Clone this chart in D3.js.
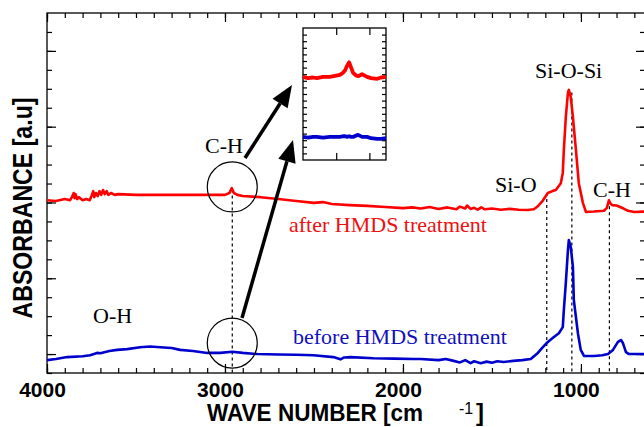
<!DOCTYPE html>
<html>
<head>
<meta charset="utf-8">
<script src="https://cdn.jsdelivr.net/npm/d3@7"></script>
<style>
  body { margin: 0; background: #fff; }
  svg { display: block; }
</style>
</head>
<body>
<svg></svg>
<script>
var width = 644
var height = 427

// after HMDS (red) spectrum, wave number vs absorbance (a.u.)
var redWave = [4000, 3950, 3900, 3870, 3860, 3850, 3845, 3840, 3830, 3820, 3800, 3780, 3760, 3750, 3740, 3735, 3725, 3715, 3705, 3695, 3685, 3675, 3665, 3655, 3640, 3620, 3600, 3500, 3300, 3100, 3000, 2975, 2962, 2950, 2930, 2900, 2800, 2700, 2600, 2500, 2450, 2400, 2300, 2200, 2100, 2000, 1950, 1900, 1850, 1800, 1750, 1700, 1680, 1650, 1640, 1620, 1600, 1580, 1560, 1540, 1500, 1450, 1400, 1350, 1300, 1265, 1242, 1214, 1186, 1160, 1141, 1113, 1102, 1096, 1085, 1073, 1068, 1057, 1045, 1028, 1012, 989, 972, 927, 871, 855, 848, 843, 835, 825, 800, 780, 760, 736, 700, 640]
var redAbs = [0.406, 0.404, 0.409, 0.406, 0.414, 0.425, 0.411, 0.422, 0.409, 0.414, 0.406, 0.409, 0.406, 0.417, 0.430, 0.414, 0.425, 0.417, 0.430, 0.420, 0.433, 0.422, 0.430, 0.420, 0.425, 0.420, 0.422, 0.420, 0.420, 0.420, 0.420, 0.425, 0.438, 0.425, 0.420, 0.417, 0.414, 0.409, 0.404, 0.399, 0.401, 0.396, 0.393, 0.391, 0.388, 0.385, 0.387, 0.384, 0.388, 0.383, 0.387, 0.382, 0.389, 0.384, 0.392, 0.383, 0.386, 0.381, 0.387, 0.382, 0.384, 0.381, 0.383, 0.381, 0.380, 0.382, 0.390, 0.405, 0.425, 0.430, 0.433, 0.451, 0.478, 0.538, 0.625, 0.689, 0.697, 0.678, 0.625, 0.538, 0.451, 0.399, 0.375, 0.376, 0.378, 0.385, 0.396, 0.406, 0.398, 0.393, 0.392, 0.388, 0.384, 0.378, 0.375, 0.376]

// before HMDS (blue) spectrum
var blueWave = [4000, 3950, 3887, 3800, 3758, 3719, 3700, 3650, 3606, 3550, 3477, 3420, 3364, 3300, 3252, 3180, 3100, 3026, 2959, 2900, 2818, 2700, 2600, 2503, 2391, 2351, 2330, 2295, 2166, 2050, 1940, 1901, 1800, 1760, 1715, 1680, 1650, 1620, 1600, 1563, 1530, 1500, 1470, 1434, 1380, 1330, 1282, 1242, 1214, 1186, 1152, 1124, 1102, 1096, 1085, 1073, 1068, 1057, 1045, 1040, 1017, 1001, 983, 927, 880, 848, 820, 792, 775, 764, 747, 730, 640]
var blueAbs = [-0.016, -0.013, -0.008, -0.006, -0.003, 0.003, 0.002, 0.008, 0.011, 0.013, 0.018, 0.020, 0.018, 0.016, 0.011, 0.008, 0.003, 0.003, 0.006, 0.003, 0.000, -0.001, -0.002, -0.003, -0.008, -0.014, -0.009, -0.008, -0.011, -0.012, -0.013, -0.013, -0.016, -0.013, -0.018, -0.022, -0.016, -0.024, -0.019, -0.024, -0.020, -0.023, -0.019, -0.021, -0.018, -0.016, -0.013, 0.003, 0.018, 0.032, 0.045, 0.055, 0.071, 0.116, 0.187, 0.274, 0.301, 0.282, 0.230, 0.143, 0.055, 0.011, -0.005, -0.005, -0.003, 0.000, 0.011, 0.032, 0.037, 0.029, 0.005, 0.000, 0.000]

// inset (C-H region, enlarged)
var insetWave = [3100, 3085, 3070, 3058, 3040, 3019, 3000, 2989, 2980, 2973, 2967, 2961, 2955, 2949, 2940, 2934, 2922, 2907, 2895, 2877, 2865, 2850]
var insetRedAbs = [12.6, 12.4, 12.5, 12.4, 12.6, 12.6, 12.8, 12.9, 13.2, 13.6, 14.3, 14.8, 14.0, 13.2, 12.8, 12.7, 13.0, 12.6, 12.4, 12.3, 12.5, 12.6]
var insetBlueAbs = [3.5, 3.4, 3.5, 3.5, 3.4, 3.5, 3.5, 3.5, 3.6, 3.6, 3.5, 3.6, 3.5, 3.5, 3.7, 3.8, 3.5, 3.5, 3.3, 3.2, 3.2, 3.3]

// peak markers (dashed lines) : wave number and top of dashed line
var markWave = [2959, 1192, 1051, 840]
var markTop = [0.434, 0.425, 0.69, 0.406]

var xTicks = [4000, 3000, 2000, 1000]

var svg = d3.select("svg")
	.attr("width", width)
	.attr("height", height)

var plotLeft = 47, plotRight = 645, plotTop = 13, plotBottom = 373

var xScale = d3.scaleLinear()
	.domain([4000, 640])
	.range([plotLeft, plotRight])

var yScale = d3.scaleLinear()
	.domain([-0.05, 0.9])
	.range([plotBottom, plotTop])

// frame
svg.append("rect")
	.attr("x", plotLeft).attr("y", plotTop)
	.attr("width", plotRight - plotLeft).attr("height", plotBottom - plotTop)
	.attr("fill", "none").attr("stroke", "#000").attr("stroke-width", 1.3)

function drawAxis(axis, tx, ty) {
	var g = svg.append("g")
		.attr("transform", "translate(" + tx + "," + ty + ")")
		.call(axis)
	g.select(".domain").remove()
	g.selectAll("line").attr("stroke", "#000").attr("stroke-width", 1.2)
	return g
}

var minorX = d3.range(4000, 640, -100)
var minorY = d3.range(-0.05, 0.9, 0.05)

// bottom
drawAxis(d3.axisBottom(xScale).tickValues(minorX).tickSize(-5).tickFormat(""), 0, plotBottom)
var bx = drawAxis(d3.axisBottom(xScale).tickValues(xTicks).tickSize(-9).tickPadding(9).tickFormat(d3.format("d")), 0, plotBottom)
bx.selectAll("text")
	.attr("dx", -5)
	.attr("fill", "#000")
	.style("font-family", "'Liberation Sans', Arial, sans-serif")
	.style("font-weight", "bold")
	.style("font-size", "21px")
// top
drawAxis(d3.axisTop(xScale).tickValues(minorX).tickSize(-5).tickFormat(""), 0, plotTop)
drawAxis(d3.axisTop(xScale).tickValues(xTicks).tickSize(-9).tickFormat(""), 0, plotTop)
// left / right
drawAxis(d3.axisLeft(yScale).tickValues(minorY).tickSize(-5).tickFormat(""), plotLeft, 0)
drawAxis(d3.axisLeft(yScale).ticks(5).tickSize(-9).tickFormat(""), plotLeft, 0)
drawAxis(d3.axisRight(yScale).tickValues(minorY).tickSize(-5).tickFormat(""), plotRight, 0)
drawAxis(d3.axisRight(yScale).ticks(5).tickSize(-9).tickFormat(""), plotRight, 0)

// dashed peak lines
svg.selectAll(".mark")
	.data(markWave)
	.join("line")
	.attr("class", "mark")
	.attr("x1", function(d){ return xScale(d) })
	.attr("x2", function(d){ return xScale(d) })
	.attr("y1", function(d, i){ return yScale(markTop[i]) })
	.attr("y2", plotBottom)
	.attr("stroke", "#000")
	.attr("stroke-width", 1.2)
	.attr("stroke-dasharray", "3,3")

var line = d3.line()
	.x(function(d){ return xScale(d[0]) })
	.y(function(d){ return yScale(d[1]) })

svg.append("path")
	.datum(d3.zip(redWave, redAbs))
	.attr("d", line)
	.attr("fill", "none")
	.attr("stroke", "#ff0000")
	.attr("stroke-width", 2.6)
	.attr("stroke-linejoin", "round")

svg.append("path")
	.datum(d3.zip(blueWave, blueAbs))
	.attr("d", line)
	.attr("fill", "none")
	.attr("stroke", "#0000cc")
	.attr("stroke-width", 2.6)
	.attr("stroke-linejoin", "round")

// circles around C-H region
svg.selectAll(".ring")
	.data([0.441, 0.029])
	.join("circle")
	.attr("class", "ring")
	.attr("cx", xScale(markWave[0]))
	.attr("cy", function(d){ return yScale(d) })
	.attr("r", 25)
	.attr("fill", "none")
	.attr("stroke", "#000")
	.attr("stroke-width", 1.2)

// inset
var ix = d3.scaleLinear().domain([3100, 2850]).range([303, 386])
var iy = d3.scaleLinear().domain([0, 20]).range([160, 28])

svg.append("rect")
	.attr("x", 303).attr("y", 28).attr("width", 83).attr("height", 132)
	.attr("fill", "#fff").attr("stroke", "#000").attr("stroke-width", 1.3)

drawAxis(d3.axisLeft(iy).tickValues(d3.range(1, 20)).tickSize(-4).tickFormat(""), 303, 0)
drawAxis(d3.axisRight(iy).tickValues(d3.range(1, 20)).tickSize(-4).tickFormat(""), 386, 0)
drawAxis(d3.axisBottom(ix).tickValues([3000, 2900]).tickSize(-7).tickFormat(""), 0, 160)
drawAxis(d3.axisTop(ix).tickValues([3000, 2900]).tickSize(-7).tickFormat(""), 0, 28)

var iline = d3.line()
	.x(function(d){ return ix(d[0]) })
	.y(function(d){ return iy(d[1]) })

svg.append("path")
	.datum(d3.zip(insetWave, insetRedAbs))
	.attr("d", iline)
	.attr("fill", "none")
	.attr("stroke", "#ff0000")
	.attr("stroke-width", 3.8)
	.attr("stroke-linejoin", "round")

svg.append("path")
	.datum(d3.zip(insetWave, insetBlueAbs))
	.attr("d", iline)
	.attr("fill", "none")
	.attr("stroke", "#0000cc")
	.attr("stroke-width", 3.8)
	.attr("stroke-linejoin", "round")

// arrows
function arrow(x1, y1, x2, y2) {
	var ang = Math.atan2(y2 - y1, x2 - x1)
	var len = 22, hw = 9
	var bx = x2 - len * Math.cos(ang), by = y2 - len * Math.sin(ang)
	svg.append("line")
		.attr("x1", x1).attr("y1", y1).attr("x2", bx).attr("y2", by)
		.attr("stroke", "#000").attr("stroke-width", 3.5)
	var px = -Math.sin(ang) * hw, py = Math.cos(ang) * hw
	svg.append("path")
		.attr("d", "M" + x2 + "," + y2 + "L" + (bx + px) + "," + (by + py) + "L" + (bx - px) + "," + (by - py) + "Z")
		.attr("fill", "#000")
}
arrow(245, 158, 292, 85)
arrow(242, 318, 293, 140)

// annotations
var serif = "'Liberation Serif', 'Times New Roman', serif"
function label(txt, x, y, col) {
	svg.append("text")
		.attr("x", x).attr("y", y)
		.attr("fill", col || "#000")
		.style("font-family", serif)
		.style("font-size", "22px")
		.text(txt)
}
label("C-H", 205, 153)
label("O-H", 93, 323)
label("Si-O-Si", 535, 78)
label("Si-O", 495, 192)
label("C-H", 593, 197)
label("after HMDS treatment", 289, 232, "#ee1111")
label("before HMDS treatment", 293, 344, "#1111bb")

// axis titles
var sans = "'Liberation Sans', Arial, sans-serif"
svg.append("text")
	.attr("transform", "translate(32,208) rotate(-90)")
	.attr("text-anchor", "middle")
	.attr("textLength", 221)
	.attr("lengthAdjust", "spacingAndGlyphs")
	.style("font-family", sans)
	.style("font-weight", "bold")
	.style("font-size", "27px")
	.text("ABSORBANCE [a.u]")

svg.append("text")
	.attr("x", 207).attr("y", 421)
	.attr("textLength", 216)
	.attr("lengthAdjust", "spacingAndGlyphs")
	.style("font-family", sans)
	.style("font-weight", "bold")
	.style("font-size", "24px")
	.text("WAVE NUMBER [cm")

svg.append("text")
	.attr("x", 459).attr("y", 414)
	.style("font-family", sans)
	.style("font-size", "16px")
	.text("-1")

svg.append("text")
	.attr("x", 476).attr("y", 421)
	.style("font-family", sans)
	.style("font-weight", "bold")
	.style("font-size", "24px")
	.text("]")
</script>
</body>
</html>
